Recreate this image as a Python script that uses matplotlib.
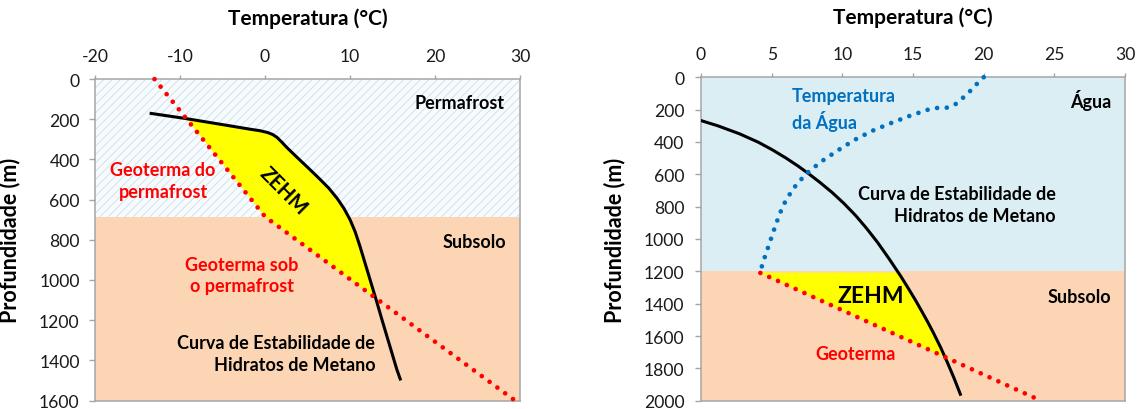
import numpy as np
import matplotlib
matplotlib.use("Agg")
import matplotlib.pyplot as plt

plt.rcParams['font.family'] = ['Lato', 'DejaVu Sans']
plt.rcParams['hatch.linewidth'] = 0.6
plt.rcParams['axes.unicode_minus'] = False

# left chart: permafrost
perm_base = 685
perm_bottom = 1600
geo_perm_T = [-13.0, 0.0, 29.4]
geo_perm_D = [0, 685, 1600]
hsc_perm_T = [-13.4, -9.4, -4.1, -1.7, -0.6, 0.3, 0.9, 1.4, 2.0, 2.55, 3.9, 5.1, 6.3, 7.5,
              8.5, 9.3, 10.0, 10.6, 11.15, 11.65, 12.15, 12.65, 13.15, 13.7, 14.3, 14.9,
              15.5, 15.9]
hsc_perm_D = [171, 196, 233, 250, 257, 266, 276, 290, 315, 340, 395, 443, 492, 543,
              595, 645, 700, 760, 830, 900, 970, 1040, 1110, 1190, 1275, 1360,
              1445, 1493]
zehm_perm = (196, 1090)

# right chart: ocean
water_base = 1200
sea_bottom = 2000
water_T = [20.0, 19.5, 19.0, 18.5, 18.0, 17.4, 16.7, 16.0, 14.7, 13.4, 12.1,
           10.85, 9.65, 8.5, 7.4, 6.5, 5.8, 5.3, 4.85, 4.4, 4.2]
water_D = [0, 43, 89, 130, 167, 188, 190, 202, 241, 285, 332,
           388, 454, 522, 600, 691, 794, 908, 1025, 1141, 1200]
geo_sea_T = [4.2, 24.05]
geo_sea_D = [1210, 2000]
hsc_sea_T = [0.0, 1.18, 2.73, 4.06, 5.07, 6.02, 6.88, 7.64, 8.41, 9.27, 10.11, 10.95,
             11.72, 12.49, 13.32, 14.13, 14.63, 15.13, 15.64, 16.05, 16.43, 16.95,
             17.43, 17.9, 18.35]
hsc_sea_D = [268, 300, 350, 402, 450, 500, 550, 598, 650, 712, 780, 856,
             935, 1021, 1124, 1230, 1300, 1372, 1450, 1515, 1578, 1670,
             1763, 1860, 1960]
zehm_sea = (1205, 1745)

PEACH = '#FCD5B4'
WATER = '#DAEEF3'
GRID = '#A6A6A6'
RED = '#FF0000'
BLUE = '#0070C0'
DOTS = (0, (0.001, 2.05))
FS = 13


def style_axis(ax, xticks, yticks, ymax, title_y, ylab_x, ypad):
    ax.set_ylim(ymax, 0)
    ax.set_xlim(xticks[0], xticks[-1])
    ax.set_xticks(xticks)
    ax.set_yticks(yticks)
    ax.xaxis.tick_top()
    ax.xaxis.set_label_position('top')
    for s in ax.spines.values():
        s.set_color(GRID)
        s.set_linewidth(1.1)
    ax.tick_params(axis='x', which='both', top=True, bottom=False, length=3,
                   width=1, color=GRID, labelsize=12.6, pad=8, labelcolor='#1a1a1a')
    ax.tick_params(axis='y', length=4, width=1, color=GRID, labelsize=12.6,
                   pad=ypad, labelcolor='#1a1a1a')
    ax.set_xlabel('Temperatura (°C)', fontsize=15, fontweight='bold')
    ax.xaxis.set_label_coords(0.5, title_y)
    ax.set_ylabel('Profundidade (m)', fontsize=15.5, fontweight='bold')
    ax.yaxis.set_label_coords(ylab_x, 0.5)


fig = plt.figure(figsize=(11.38, 4.10), dpi=100)
ax1 = fig.add_axes([0.0835, 0.0207, 0.3735, 0.784])
ax2 = fig.add_axes([0.616, 0.0202, 0.3726, 0.789])

# ---- left
ax1.axhspan(0, perm_base, facecolor='#F7FBFD', edgecolor='#CADFE9',
            hatch='////', linewidth=0, zorder=0)
ax1.axhspan(perm_base, perm_bottom, facecolor=PEACH, linewidth=0, zorder=0)

d = np.linspace(zehm_perm[0], zehm_perm[1], 300)
ax1.fill_betweenx(d, np.interp(d, geo_perm_D, geo_perm_T),
                  np.interp(d, hsc_perm_D, hsc_perm_T),
                  color='#FFFF00', linewidth=0, zorder=1)
ax1.plot(hsc_perm_T, hsc_perm_D, color='black', lw=2.2, zorder=3,
         solid_joinstyle='round')
ax1.plot(geo_perm_T, geo_perm_D, color=RED, lw=3.4, ls=DOTS,
         dash_capstyle='round', zorder=4, clip_on=False)

ax1.text(22.9, 116, 'Permafrost', fontsize=FS, fontweight='bold',
         ha='center', va='center')
ax1.text(24.6, 808, 'Subsolo', fontsize=FS, fontweight='bold',
         ha='center', va='center')
ax1.text(-12.0, 506, 'Geoterma do\npermafrost', fontsize=FS, fontweight='bold',
         color=RED, ha='center', va='center', linespacing=1.35)
ax1.text(-2.7, 975, 'Geoterma sob\no permafrost', fontsize=FS, fontweight='bold',
         color=RED, ha='center', va='center', linespacing=1.35)
ax1.text(12.95, 1366, 'Curva de Estabilidade de\nHidratos de Metano', fontsize=FS,
         fontweight='bold', ha='right', va='center', multialignment='right',
         linespacing=1.35)
ax1.text(2.2, 556, 'ZEHM', fontsize=14.5, fontweight='bold', rotation=-45,
         ha='center', va='center', rotation_mode='anchor')

style_axis(ax1, [-20, -10, 0, 10, 20, 30], list(range(0, 1601, 200)),
           perm_bottom, 1.171, -0.176, 7)

# ---- right
ax2.axhspan(0, water_base, facecolor=WATER, linewidth=0, zorder=0)
ax2.axhspan(water_base, sea_bottom, facecolor=PEACH, linewidth=0, zorder=0)

d = np.linspace(zehm_sea[0], zehm_sea[1], 300)
ax2.fill_betweenx(d, np.interp(d, geo_sea_D, geo_sea_T),
                  np.interp(d, hsc_sea_D, hsc_sea_T),
                  color='#FFFF00', linewidth=0, zorder=1)
ax2.plot(hsc_sea_T, hsc_sea_D, color='black', lw=2.2, zorder=3,
         solid_joinstyle='round')
ax2.plot(water_T, water_D, color=BLUE, lw=3.4, ls=DOTS,
         dash_capstyle='round', zorder=4, clip_on=False)
ax2.plot(geo_sea_T, geo_sea_D, color=RED, lw=3.4, ls=DOTS,
         dash_capstyle='round', zorder=4, clip_on=False)

ax2.text(27.6, 140, 'Água', fontsize=FS, fontweight='bold',
         ha='center', va='center')
ax2.text(6.45, 198, 'Temperatura\nda Água', fontsize=FS, fontweight='bold',
         color=BLUE, ha='left', va='center', linespacing=1.35)
ax2.text(25.1, 786, 'Curva de Estabilidade de\nHidratos de Metano', fontsize=FS,
         fontweight='bold', ha='right', va='center', multialignment='right',
         linespacing=1.35)
ax2.text(26.75, 1355, 'Subsolo', fontsize=FS, fontweight='bold',
         ha='center', va='center')
ax2.text(12.0, 1351, 'ZEHM', fontsize=16.5, fontweight='bold',
         ha='center', va='center')
ax2.text(10.9, 1706, 'Geoterma', fontsize=FS, fontweight='bold',
         color=RED, ha='center', va='center')

style_axis(ax2, [0, 5, 10, 15, 20, 25, 30], list(range(0, 2001, 200)),
           sea_bottom, 1.168, -0.179, 8)

fig.savefig('out.png', dpi=100)
